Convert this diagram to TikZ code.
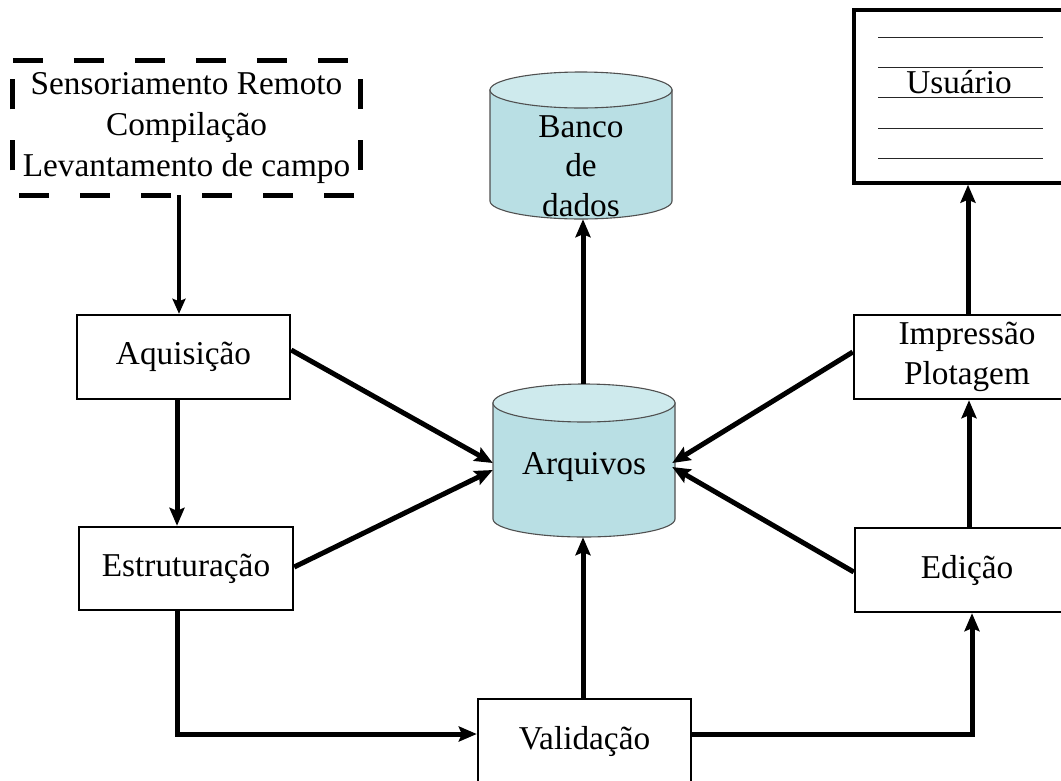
\documentclass[tikz,border=0pt]{standalone}
\usepackage{fontspec}
\setmainfont{Liberation Serif}
\usetikzlibrary{arrows.meta,calc}

\definecolor{cylside}{RGB}{185,223,228}
\definecolor{cyltop}{RGB}{206,234,237}
\definecolor{cyledge}{RGB}{80,80,80}

\begin{document}
\begin{tikzpicture}[x=1pt,y=-1pt,
  every node/.style={font=\fontsize{33.3}{41}\selectfont, inner sep=0pt, align=center},
  procbox/.style={draw, line width=2.4pt, rectangle},
  flow/.style={line width=5pt, -{Stealth[length=18pt,width=15pt,inset=3pt]}},
  thinflow/.style={line width=3.8pt, -{Stealth[length=15pt,width=13pt,inset=2.5pt]}},
  cylbody/.style={fill=cylside, draw=cyledge, line width=1.1pt},
  cylcap/.style={fill=cyltop, draw=cyledge, line width=1.1pt},
  ruling/.style={line width=1pt, draw=black!85}]

\useasboundingbox (0,0) rectangle (1061,780);
\fill[white] (0,0) rectangle (1061,780);
\clip (0,0) rectangle (1061,780);

% --- data sources (dashed frame) ---
\node (src) at (186.5,128) [minimum width=347pt, minimum height=134pt]
  {Sensoriamento Remoto\\Compilação\\Levantamento de campo};
\draw[line width=4.8pt, dash pattern=on 30pt off 31pt]
  (src.north west) -- (src.north east) -- (src.south east) -- (src.south west) -- cycle;

% --- process boxes ---
\node[procbox, minimum width=213pt, minimum height=84pt] (aq)  at (183.5,357) {Aquisição};
\node[procbox, minimum width=214pt, minimum height=83pt] (est) at (186,568.5) {Estruturação};
\node[procbox, minimum width=213pt, minimum height=84pt] (val) at (584.5,741) {Validação};
\node[procbox, minimum width=224pt, minimum height=84pt] (edi) at (967,570) {Edição};
\node[procbox, minimum width=226pt, minimum height=84pt] (imp) at (967,357) {Impressão\\[-1pt]Plotagem};

% --- user sheet ---
\node[draw, line width=3.4pt, minimum width=226pt, minimum height=173pt] (usr) at (967,96.5) {};
\foreach \yy in {37,67,97,128,158}
  \draw[ruling] (878,\yy) -- (1043,\yy);
\node (usrtxt) at (959,82) {Usuário};

% --- cylinder: Banco de dados ---
\draw[cylbody] (490,90) -- (490,201)
  arc[start angle=180, end angle=360, x radius=91pt, y radius=18pt] -- (672,90) -- cycle;
\draw[cylcap] (581,90) ellipse [x radius=91pt, y radius=18pt];
\node[minimum width=182pt, minimum height=147pt] (bd) at (581,145.5) {};
\node[font=\fontsize{33.3}{39.5}\selectfont] (bdtxt) at (581,166) {Banco\\de\\dados};

% --- cylinder: Arquivos ---
\draw[cylbody] (493,403) -- (493,519)
  arc[start angle=180, end angle=360, x radius=91pt, y radius=18pt] -- (675,403) -- cycle;
\draw[cylcap] (584,403) ellipse [x radius=91pt, y radius=19pt];
\node[minimum width=182pt, minimum height=153pt] (arq) at (584,460.5) {};
\node (arqtxt) at (584,467) {Arquivos};

% --- connectors ---
\draw[thinflow] ($(src.south)+(-7.5,0)$) -- ($(aq.north)+(-4.5,0)$);
\draw[flow] ($(aq.south)+(-6.5,0)$) -- ($(est.north)+(-9,0)$);
\draw[flow] ($(est.south)+(-9,0)$) |- ($(val.west)+(0,-7)$);
\draw[flow] ($(val.east)+(0,-7)$) -| ($(edi.south)+(5,0)$);
\draw[flow] ($(edi.north)+(2,0)$) -- ($(imp.south)+(2,0)$);
\draw[flow] ($(imp.north)+(1,0)$) -- ($(usr.south)+(1,0)$);
\draw[flow] ($(val.north)+(-1.5,0)$) -- ($(arq.south)+(-1,0)$);
\draw[flow] ($(arq.north)+(-1,0)$) -- ($(bd.south)+(2,0)$);

\draw[flow] ($(aq.east)+(0,-7)$)  -- ($(arq.west)+(0,2.5)$);
\draw[flow] ($(est.east)+(0,-1.5)$) -- ($(arq.west)+(0,9.5)$);
\draw[flow] ($(imp.west)+(0,-5)$) -- ($(arq.east)+(-3,2.5)$);
\draw[flow] ($(edi.west)+(0,2)$)  -- ($(arq.east)+(-3,6.5)$);
\end{tikzpicture}
\end{document}
